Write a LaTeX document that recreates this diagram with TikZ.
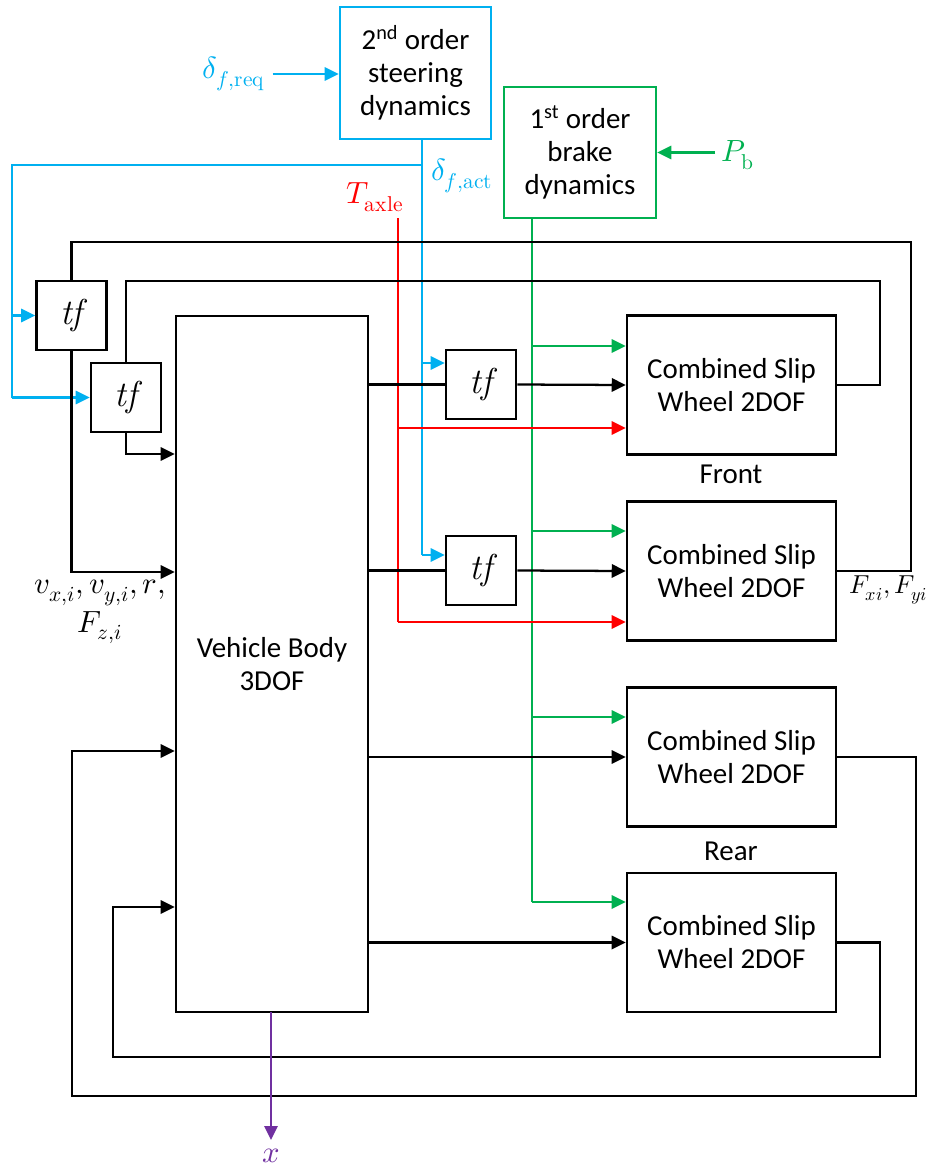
\documentclass[tikz,border=0pt]{standalone}
\usepackage{fontspec}
\usepackage{unicode-math}
\setmainfont{Carlito}
\setmathfont{Latin Modern Math}
\newfontfamily\lmr{Latin Modern Roman}
\usetikzlibrary{arrows.meta}
\definecolor{cblue}{RGB}{0,176,240}
\definecolor{cgreen}{RGB}{0,176,80}
\definecolor{cred}{RGB}{255,0,0}
\definecolor{cpurple}{RGB}{112,48,160}
\begin{document}
\begin{tikzpicture}[x=0.75pt,y=-0.75pt,
  every node/.style={font=\fontsize{21.7}{24.75}\selectfont},
  blk/.style={draw,line width=1.9pt,inner sep=0pt,align=center},
  tfbox/.style={blk,minimum width=52.5pt,minimum height=51.75pt,font=\fontsize{27}{30}\selectfont\lmr\itshape},
  whl/.style={blk,minimum width=156.75pt,minimum height=104pt},
  ln/.style={line width=1.7pt},
  arr/.style={ln,-{Triangle[length=10.5pt,width=10pt]}},
  lbl/.style={inner sep=0pt,font=\fontsize{23}{27}\selectfont}]
\useasboundingbox (0,0) rectangle (931,1168);
% blocks
\node[blk,draw=cblue,minimum width=113.25pt,minimum height=99pt] (steer) at (415.5,73) {2\textsuperscript{nd} order\\steering\\dynamics};
\node[blk,draw=cgreen,minimum width=114pt,minimum height=98.25pt] (brake) at (580,152.5) {1\textsuperscript{st} order\\brake\\dynamics};
\node[tfbox] (tf1) at (71.5,315.5) {tf};
\node[tfbox] (tf2) at (126,397.5) {tf};
\node[blk,minimum width=144pt,minimum height=522pt] (body) at (272,664) {Vehicle Body\\3DOF};
\node[tfbox] (tf3) at (481,384.5) {tf};
\node[tfbox] (tf4) at (481,570.5) {tf};
\node[whl] (w1) at (731.5,385) {Combined Slip\\Wheel 2DOF};
\node[whl] (w2) at (731.5,571) {Combined Slip\\Wheel 2DOF};
\node[whl] (w3) at (731.5,757) {Combined Slip\\Wheel 2DOF};
\node[whl] (w4) at (731.5,942.5) {Combined Slip\\Wheel 2DOF};
\node[inner sep=0pt] (front) at (731,474) {Front};
\node[inner sep=0pt] (rear) at (731,851) {Rear};
% labels
\node[lbl,text=cblue] (dreq) at (234,74) {$\delta_{f,\symup{req}}$};
\node[lbl,text=cblue] (dact) at (462,176) {$\delta_{f,\symup{act}}$};
\node[lbl,text=cred] (taxle) at (375,197) {$T_{\symup{axle}}$};
\node[lbl,text=cgreen] (pb) at (738,155) {$P_{\symup{b}}$};
\node[lbl,align=center] (vlab) at (100,612) {$v_{x,i}, v_{y,i}, r,$\\[2pt]$F_{z,i}$};
\node[lbl,anchor=east,font=\fontsize{19.5}{23}\selectfont] (flab) at (928,590) {$F_{xi}, F_{yi}$};
\node[lbl,text=cpurple] (xlab) at (271,1156) {$x$};
% coordinates
\coordinate (sa) at (422,139);
\coordinate (ba) at (532,218);
\coordinate (ra) at (398,218);
\coordinate (xo) at (271,1012);
\coordinate (xe) at (271,1140);
% steering
\draw[arr,cblue] (dreq.east) ++(7,0) coordinate (dq) -- (steer.west |- dq);
\draw[ln,cblue] (sa) -- (422,555);
\draw[arr,cblue] (422,363) -- (tf3.west |- 0,363);
\draw[arr,cblue] (422,555) -- (tf4.west |- 0,555);
\draw[ln,cblue] (422,165) -- (12,165) -- (12,397.5);
\draw[arr,cblue] (12,397.5) -- (tf2.west);
\draw[arr,cblue] (12,315.5) -- (tf1.west);
% brake
\draw[arr,cgreen] (715,152.5) -- (brake.east);
\draw[ln,cgreen] (ba) -- (532,902);
\draw[arr,cgreen] (532,346) -- (w1.west |- 0,346);
\draw[arr,cgreen] (532,531) -- (w2.west |- 0,531);
\draw[arr,cgreen] (532,717) -- (w3.west |- 0,717);
\draw[arr,cgreen] (532,902) -- (w4.west |- 0,902);
% torque
\draw[ln,cred] (ra) -- (398,622);
\draw[arr,cred] (398,428) -- (w1.west |- 0,428);
\draw[arr,cred] (398,622) -- (w2.west |- 0,622);
% body outputs
\draw[ln] (body.east |- tf3.west) -- (tf3.west);
\draw[arr] (tf3.east) -- (w1.west);
\draw[ln] (body.east |- tf4.west) -- (tf4.west);
\draw[arr] (tf4.east) -- (w2.west);
\draw[arr] (body.east |- w3.west) -- (w3.west);
\draw[arr] (body.east |- w4.west) -- (w4.west);
% feedback loops
\draw[ln] (w2.east) -| (911,242) -| (tf1.north);
\draw[arr] (tf1.south) |- (body.west |- 0,572);
\draw[ln] (w1.east) -| (880,281) -| (tf2.north);
\draw[arr] (tf2.south) |- (body.west |- 0,454);
\draw[arr] (w3.east) -| (916,1096) -| (72,751) -- (body.west |- 0,751);
\draw[arr] (w4.east) -| (880,1057) -| (113,907) -- (body.west |- 0,907);
% output
\draw[arr,cpurple] (xo) -- (xe);
\end{tikzpicture}
\end{document}
